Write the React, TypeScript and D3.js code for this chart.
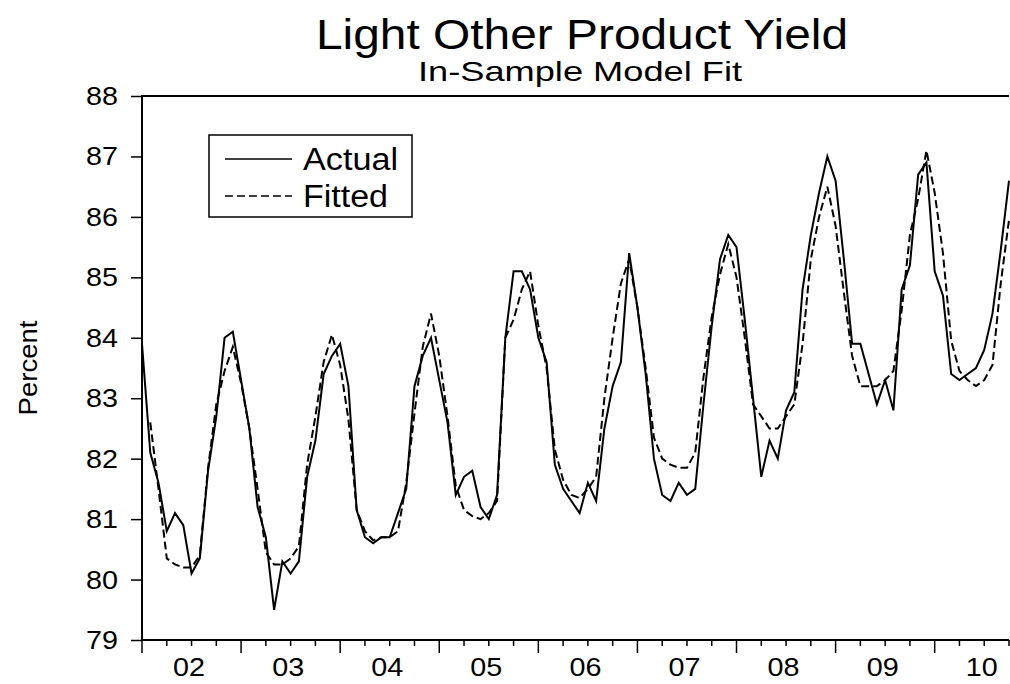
import React, { useEffect, useRef } from "react";
import * as d3 from "d3";

// monthly observations, 2002M01 .. 2010M10
const actual = [
  83.9, 82.1, 81.6, 80.8, 81.1, 80.9, 80.1, 80.35, 81.8, 82.7, 84.0, 84.1,
  83.3, 82.5, 81.2, 80.7, 79.5, 80.3, 80.1, 80.3, 81.7, 82.3, 83.4, 83.7,
  83.9, 83.2, 81.15, 80.7, 80.6, 80.7, 80.7, 81.1, 81.5, 83.2, 83.7, 84.0,
  83.3, 82.6, 81.4, 81.7, 81.8, 81.2, 81.0, 81.4, 84.0, 85.1, 85.1, 84.8,
  84.0, 83.6, 81.9, 81.5, 81.3, 81.1, 81.6, 81.3, 82.5, 83.2, 83.6, 85.4,
  84.5, 83.4, 82.0, 81.4, 81.3, 81.6, 81.4, 81.5, 82.9, 84.2, 85.3, 85.7,
  85.5, 84.3, 83.0, 81.7, 82.3, 82.0, 82.8, 83.1, 84.8, 85.7, 86.4, 87.0,
  86.6, 85.3, 83.9, 83.9, 83.4, 82.9, 83.3, 82.8, 84.8, 85.2, 86.7, 86.9,
  85.1, 84.7, 83.4, 83.3, 83.4, 83.5, 83.8, 84.4, 85.45, 86.6,
];

const fitted: (number | null)[] = [
  null, 82.6, 81.5, 80.35, 80.25, 80.2, 80.2, 80.4, 81.85, 82.9, 83.45, 83.85,
  83.25, 82.5, 81.5, 80.45, 80.25, 80.25, 80.35, 80.55, 81.9, 82.7, 83.6, 84.05,
  83.55, 82.65, 81.15, 80.8, 80.65, 80.7, 80.7, 80.8, 81.6, 82.75, 83.85, 84.4,
  83.7, 82.7, 81.55, 81.15, 81.05, 81.0, 81.1, 81.3, 84.0, 84.3, 84.8, 85.1,
  84.2, 83.5, 82.15, 81.65, 81.4, 81.35, 81.5, 81.7, 83.0, 84.0, 84.9, 85.3,
  84.5, 83.5, 82.35, 82.0, 81.9, 81.85, 81.85, 82.1, 83.35, 84.35, 85.05, 85.55,
  85.0, 84.0, 82.9, 82.7, 82.5, 82.5, 82.7, 82.9, 83.9, 85.3, 86.0, 86.5,
  85.85, 84.75, 83.7, 83.2, 83.2, 83.2, 83.3, 83.45, 84.45, 85.7, 86.3, 87.1,
  86.4, 85.4, 83.95, 83.45, 83.3, 83.2, 83.3, 83.55, 84.9, 85.95,
];

const yearLabels = ["02", "03", "04", "05", "06", "07", "08", "09", "10"];
const yTicks = [79, 80, 81, 82, 83, 84, 85, 86, 87, 88];

const W = 1010;
const H = 684;
const font = "'Liberation Sans', Arial, sans-serif";

export default function App() {
  const svgRef = useRef<SVGSVGElement>(null);

  useEffect(() => {
    const svg = d3.select(svgRef.current);
    svg.selectAll("*").remove();

    const left = 142,
      right = 1009,
      top = 96,
      bottom = 640;

    const x = d3.scaleLinear().domain([0, actual.length - 1]).range([left, right]);
    const y = d3.scaleLinear().domain([79, 88]).range([bottom, top]);

    svg.append("rect").attr("width", W).attr("height", H).attr("fill", "#fff");

    // titles
    svg
      .append("text")
      .attr("x", 582)
      .attr("y", 49)
      .attr("text-anchor", "middle")
      .attr("font-family", font)
      .attr("font-size", 43)
      .attr("textLength", 532)
      .attr("lengthAdjust", "spacingAndGlyphs")
      .text("Light Other Product Yield");

    svg
      .append("text")
      .attr("x", 580)
      .attr("y", 81)
      .attr("text-anchor", "middle")
      .attr("font-family", font)
      .attr("font-size", 28)
      .attr("textLength", 324)
      .attr("lengthAdjust", "spacingAndGlyphs")
      .text("In-Sample Model Fit");

    // frame
    svg
      .append("path")
      .attr("d", `M${left},${bottom}V${top}H${right}`)
      .attr("fill", "none")
      .attr("stroke", "#000")
      .attr("stroke-width", 2);
    svg
      .append("line")
      .attr("x1", left)
      .attr("x2", right)
      .attr("y1", bottom)
      .attr("y2", bottom)
      .attr("stroke", "#000")
      .attr("stroke-width", 2);

    // y axis ticks + labels (labels a bit wide, like the original)
    const yAxis = svg
      .append("g")
      .attr("transform", `translate(${left},0)`)
      .call(d3.axisLeft(y).tickValues(yTicks).tickSize(11).tickFormat(() => ""));
    yAxis.select(".domain").remove();
    yAxis.selectAll("line").attr("stroke-width", 1.5);

    svg
      .append("g")
      .selectAll("text")
      .data(yTicks)
      .join("text")
      .attr("transform", (d) => `translate(118,${y(d) + 9}) scale(1.15,1)`)
      .attr("text-anchor", "end")
      .attr("font-family", font)
      .attr("font-size", 25)
      .text((d) => d);

    // x ticks: quarterly minor, yearly major
    const quarters = d3.range(0, actual.length, 3);
    svg
      .append("g")
      .selectAll("line")
      .data(quarters)
      .join("line")
      .attr("x1", (d) => x(d))
      .attr("x2", (d) => x(d))
      .attr("y1", bottom)
      .attr("y2", (d) => bottom + (d % 12 === 0 ? 13 : 6))
      .attr("stroke", "#000")
      .attr("stroke-width", 1.5);

    svg
      .append("g")
      .selectAll("text")
      .data(yearLabels)
      .join("text")
      .attr("transform", (d, i) => `translate(${x(i * 12 + 5.7)},676) scale(1.15,1)`)
      .attr("text-anchor", "middle")
      .attr("font-family", font)
      .attr("font-size", 25)
      .text((d) => d);

    svg
      .append("text")
      .attr("transform", `translate(37,368) rotate(-90) scale(1.06,1)`)
      .attr("text-anchor", "middle")
      .attr("font-family", font)
      .attr("font-size", 26)
      .text("Percent");

    // series
    const line = d3
      .line<number | null>()
      .defined((d) => d !== null)
      .x((d, i) => x(i))
      .y((d) => y(d as number));

    const plot = svg.append("g");
    plot
      .append("path")
      .datum(fitted)
      .attr("fill", "none")
      .attr("stroke", "#000")
      .attr("stroke-width", 2)
      .attr("stroke-dasharray", "8,4")
      .attr("d", line);
    plot
      .append("path")
      .datum(actual)
      .attr("fill", "none")
      .attr("stroke", "#000")
      .attr("stroke-width", 2)
      .attr("d", line);

    // legend
    const lg = svg.append("g").attr("transform", "translate(209,135)");
    lg.append("rect")
      .attr("width", 203)
      .attr("height", 82)
      .attr("fill", "#fff")
      .attr("stroke", "#000")
      .attr("stroke-width", 1.5);
    const items = [
      { name: "Actual", dash: null, cy: 24 },
      { name: "Fitted", dash: "8,4", cy: 61 },
    ];
    items.forEach((it) => {
      lg.append("line")
        .attr("x1", 16)
        .attr("x2", 83)
        .attr("y1", it.cy)
        .attr("y2", it.cy)
        .attr("stroke", "#000")
        .attr("stroke-width", 1.5)
        .attr("stroke-dasharray", it.dash);
      lg.append("text")
        .attr("x", 94)
        .attr("y", it.cy + 11)
        .attr("font-family", font)
        .attr("font-size", 31)
        .attr("textLength", it.name === "Actual" ? 95 : 85)
        .attr("lengthAdjust", "spacingAndGlyphs")
        .text(it.name);
    });
  }, []);

  return (
    <div style={{ position: "fixed", left: 0, top: 0, width: W, height: H, overflow: "hidden" }}>
      <svg ref={svgRef} width={W} height={H} style={{ display: "block" }} />
    </div>
  );
}
